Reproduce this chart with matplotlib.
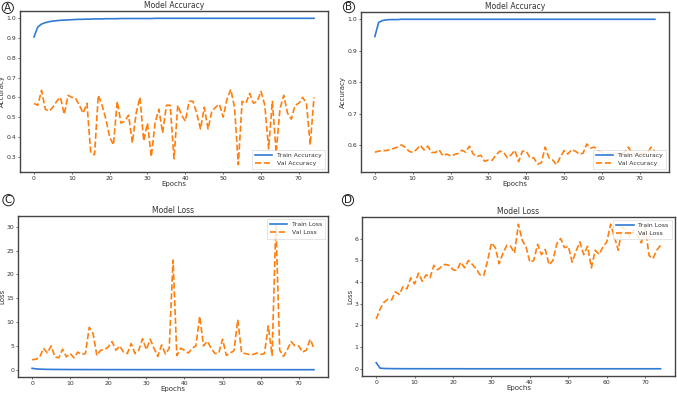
import numpy as np
import matplotlib
matplotlib.use("Agg")
import matplotlib.pyplot as plt

epochs = list(range(75))

# panel A
train_acc_a = [0.905, 0.955, 0.970, 0.977, 0.982, 0.985, 0.987, 0.989, 0.990, 0.991,
               0.992, 0.993, 0.994, 0.994, 0.995, 0.995, 0.996, 0.996, 0.996, 0.997,
               0.997, 0.997, 0.997, 0.998, 0.998, 0.998, 0.998, 0.998, 0.998, 0.998,
               0.998, 0.998, 0.999, 0.999, 0.999, 0.999, 0.999, 0.999, 0.999, 0.999,
               0.999, 0.999, 0.999, 0.999, 0.999, 0.999, 0.999, 0.999, 0.999, 0.999,
               0.999, 0.999, 0.999, 0.999, 0.999, 0.999, 0.999, 0.999, 0.999, 0.999,
               0.999, 0.999, 0.999, 0.999, 0.999, 0.999, 0.999, 0.999, 0.999, 0.999,
               0.999, 0.999, 0.999, 0.999, 0.999]
val_acc_a = [0.569, 0.560, 0.635, 0.540, 0.530, 0.550, 0.580, 0.600, 0.514, 0.610,
             0.600, 0.595, 0.560, 0.520, 0.570, 0.320, 0.310, 0.610, 0.560, 0.490,
             0.400, 0.360, 0.580, 0.470, 0.480, 0.510, 0.370, 0.520, 0.600, 0.380,
             0.470, 0.300, 0.470, 0.540, 0.420, 0.560, 0.560, 0.290, 0.560, 0.510,
             0.480, 0.580, 0.580, 0.520, 0.440, 0.550, 0.440, 0.530, 0.550, 0.565,
             0.500, 0.590, 0.640, 0.550, 0.260, 0.580, 0.570, 0.620, 0.570, 0.580,
             0.630, 0.560, 0.340, 0.580, 0.320, 0.540, 0.610, 0.520, 0.490, 0.560,
             0.570, 0.600, 0.570, 0.360, 0.600]

# panel B
train_acc_b = [0.945, 0.990, 0.996, 0.998, 0.999, 0.999, 0.999, 1.000, 1.000, 1.000,
               1.000, 1.000, 1.000, 1.000, 1.000, 1.000, 1.000, 1.000, 1.000, 1.000,
               1.000, 1.000, 1.000, 1.000, 1.000, 1.000, 1.000, 1.000, 1.000, 1.000,
               1.000, 1.000, 1.000, 1.000, 1.000, 1.000, 1.000, 1.000, 1.000, 1.000,
               1.000, 1.000, 1.000, 1.000, 1.000, 1.000, 1.000, 1.000, 1.000, 1.000,
               1.000, 1.000, 1.000, 1.000, 1.000, 1.000, 1.000, 1.000, 1.000, 1.000,
               1.000, 1.000, 1.000, 1.000, 1.000, 1.000, 1.000, 1.000, 1.000, 1.000,
               1.000, 1.000, 1.000, 1.000, 1.000]
val_acc_b = [0.577, 0.580, 0.582, 0.582, 0.585, 0.589, 0.593, 0.600, 0.593, 0.580,
             0.576, 0.585, 0.599, 0.584, 0.596, 0.576, 0.576, 0.584, 0.565, 0.571,
             0.565, 0.569, 0.573, 0.583, 0.577, 0.596, 0.571, 0.563, 0.567, 0.548,
             0.552, 0.551, 0.568, 0.580, 0.577, 0.559, 0.568, 0.583, 0.547, 0.580,
             0.580, 0.559, 0.559, 0.539, 0.543, 0.593, 0.559, 0.552, 0.537, 0.561,
             0.582, 0.571, 0.585, 0.580, 0.571, 0.573, 0.603, 0.590, 0.593, 0.582,
             0.577, 0.572, 0.568, 0.575, 0.570, 0.566, 0.578, 0.593, 0.574, 0.569,
             0.576, 0.571, 0.573, 0.593, 0.580]

# panel C
train_loss_c = [0.30, 0.18, 0.13, 0.10, 0.08, 0.07, 0.06, 0.055, 0.05, 0.045,
                0.04, 0.04, 0.035, 0.035, 0.03, 0.03, 0.03, 0.028, 0.026, 0.025,
                0.024, 0.023, 0.022, 0.021, 0.02, 0.02, 0.019, 0.018, 0.018, 0.017,
                0.017, 0.016, 0.016, 0.015, 0.015, 0.015, 0.014, 0.014, 0.014, 0.013,
                0.013, 0.013, 0.012, 0.012, 0.012, 0.012, 0.011, 0.011, 0.011, 0.011,
                0.011, 0.010, 0.010, 0.010, 0.010, 0.010, 0.010, 0.010, 0.009, 0.009,
                0.009, 0.009, 0.009, 0.009, 0.009, 0.009, 0.008, 0.008, 0.008, 0.008,
                0.008, 0.008, 0.008, 0.008, 0.008]
val_loss_c = [2.1, 2.2, 2.7, 4.5, 3.5, 5.0, 2.7, 2.5, 4.3, 2.7,
              3.4, 2.5, 3.7, 3.2, 3.4, 8.9, 7.6, 3.0, 4.1, 4.2,
              4.8, 5.9, 4.1, 5.0, 3.7, 3.4, 5.5, 3.4, 4.1, 6.5,
              4.2, 6.4, 4.5, 2.8, 5.2, 3.3, 4.5, 23.0, 3.0, 4.5,
              4.1, 3.5, 4.5, 5.0, 11.2, 5.0, 6.0, 4.5, 3.4, 3.5,
              6.4, 3.0, 3.5, 4.0, 10.5, 3.5, 3.4, 3.2, 3.2, 3.5,
              3.2, 3.4, 9.2, 3.0, 30.7, 4.1, 2.8, 4.2, 5.9, 5.0,
              5.0, 3.7, 4.1, 6.4, 4.5]

# panel D
train_loss_d = [0.28, 0.03, 0.015, 0.010, 0.008, 0.006, 0.005, 0.004, 0.004, 0.003,
                0.003, 0.003, 0.003, 0.002, 0.002, 0.002, 0.002, 0.002, 0.002, 0.002,
                0.002, 0.002, 0.002, 0.001, 0.001, 0.001, 0.001, 0.001, 0.001, 0.001,
                0.001, 0.001, 0.001, 0.001, 0.001, 0.001, 0.001, 0.001, 0.001, 0.001,
                0.001, 0.001, 0.001, 0.001, 0.001, 0.001, 0.001, 0.001, 0.001, 0.001,
                0.001, 0.001, 0.001, 0.001, 0.001, 0.001, 0.001, 0.001, 0.001, 0.001,
                0.001, 0.001, 0.001, 0.001, 0.001, 0.001, 0.001, 0.001, 0.001, 0.001,
                0.001, 0.001, 0.001, 0.001, 0.001]
val_loss_d = [2.29, 2.75, 3.06, 3.20, 3.17, 3.55, 3.42, 3.79, 3.68, 4.19,
              3.91, 4.40, 4.03, 4.33, 4.19, 4.76, 4.56, 4.71, 4.81, 4.76,
              4.56, 4.53, 4.91, 4.65, 4.99, 4.81, 4.61, 4.33, 4.30, 4.99,
              5.80, 5.58, 4.84, 5.33, 5.69, 5.64, 5.33, 6.66, 5.92, 5.61,
              4.91, 4.99, 5.73, 5.26, 5.49, 4.79, 4.99, 5.77, 6.00, 5.58,
              5.64, 4.91, 5.42, 5.84, 5.26, 5.64, 4.65, 5.46, 5.27, 5.61,
              5.84, 6.66, 6.07, 5.46, 6.54, 6.38, 6.07, 6.38, 6.15, 5.80,
              6.54, 5.22, 5.07, 5.46, 5.69]

blue = '#2f7bd6'
orange = '#ff7f0e'
txt = '#333333'

fig = plt.figure(figsize=(6.77, 3.94), dpi=100)

def panel(rect, train, val, title, ylabel, names, loc, letter, lpos):
    ax = fig.add_axes(rect)
    ax.plot(epochs, train, color=blue, lw=1.2, label=names[0])
    ax.plot(epochs, val, color=orange, lw=1.2, ls='--', label=names[1])
    ax.set_title(title, fontsize=5.5, color=txt, pad=2)
    ax.set_xlabel('Epochs', fontsize=5.0, color=txt, labelpad=0.5)
    ax.set_ylabel(ylabel, fontsize=5.0, color=txt, labelpad=1)
    ax.tick_params(labelsize=4.4, colors=txt, length=1.5, width=0.5, pad=1.2)
    ax.set_xticks([0, 10, 20, 30, 40, 50, 60, 70])
    for s in ax.spines.values():
        s.set_color('#444444')
        s.set_linewidth(1.0)
    leg = ax.legend(loc=loc, fontsize=4.4, handlelength=2.8, borderpad=0.5,
                    labelspacing=0.45, framealpha=0.85, fancybox=False)
    leg.get_frame().set_linewidth(0.4)
    for t in leg.get_texts():
        t.set_color(txt)
    fig.text(lpos[0], lpos[1], letter, fontsize=7.5, ha='center', va='center', color='#222222',
             bbox=dict(boxstyle='circle,pad=0.06', fc='white', ec='#222222', lw=0.7))
    return ax

panel([0.0295, 0.5635, 0.455, 0.4086], train_acc_a, val_acc_a, 'Model Accuracy', 'Accuracy',
      ['Train Accuracy', 'Val Accuracy'], 'lower right', 'A', (0.0115, 0.980))
panel([0.533, 0.5635, 0.455, 0.406], train_acc_b, val_acc_b, 'Model Accuracy', 'Accuracy',
      ['Train Accuracy', 'Val Accuracy'], 'lower right', 'B', (0.5155, 0.982))
panel([0.0266, 0.0431, 0.458, 0.4086], train_loss_c, val_loss_c, 'Model Loss', 'Loss',
      ['Train Loss', 'Val Loss'], 'upper right', 'C', (0.0125, 0.492))
panel([0.5347, 0.0457, 0.462, 0.4036], train_loss_d, val_loss_d, 'Model Loss', 'Loss',
      ['Train Loss', 'Val Loss'], 'upper right', 'D', (0.514, 0.492))

fig.savefig('out.png', dpi=100)
